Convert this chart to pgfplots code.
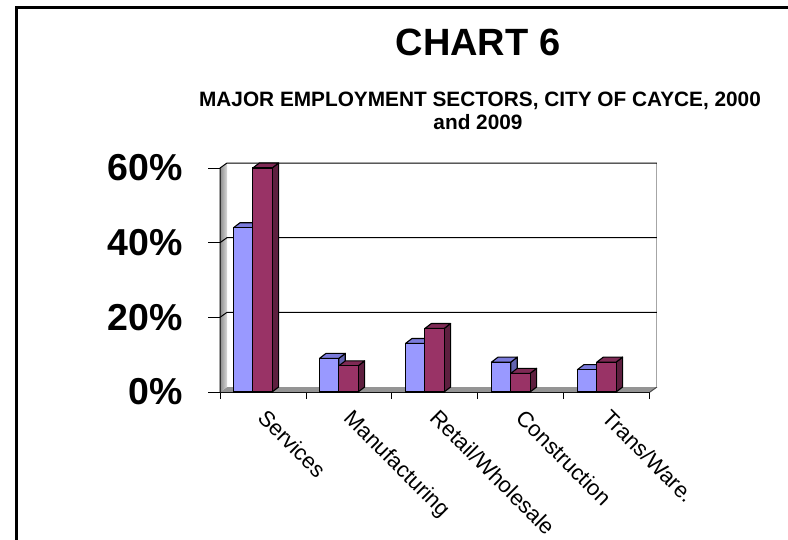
\documentclass[border=0pt]{standalone}
\usepackage{pgfplots}
\pgfplotsset{compat=1.18}
\usepackage{pgfplotstable}
\usepackage{fontspec}
\setmainfont{Liberation Sans}

\definecolor{blueF}{HTML}{9999FF}
\definecolor{blueT}{HTML}{7B7BDB}
\definecolor{blueS}{HTML}{6262B0}
\definecolor{marF}{HTML}{993366}
\definecolor{marT}{HTML}{7F2A55}
\definecolor{marS}{HTML}{5E1F3F}

% share of employment, 2000 (a) and 2009 (b)
\pgfplotstableread{
x a  b
0 44 60
1 9  7
2 13 17
3 8  5
4 6  8
}\sectors

\pgfdeclareplotmark{nothing}{}

% one 3D bar drawn at the marker origin (top of the bar, category centre)
% #1 meta mapped to 0..1000 (= 0..60%), #2 left edge offset in pt, #3 front, #4 top, #5 side colour
\newcommand\drawbar[5]{%
  \pgfmathsetmacro\hh{#1*0.224}%
  \draw[black, line width=1.1pt, line join=round, fill=#5]
    (#2pt+19.3pt,0pt) -- ++(6.5pt,5pt) -- ++(0pt,-\hh pt) -- ++(-6.5pt,-5pt) -- cycle;
  \draw[black, line width=1.1pt, line join=round, fill=#4]
    (#2pt,0pt) -- ++(6.5pt,5pt) -- ++(19.3pt,0pt) -- ++(-6.5pt,-5pt) -- cycle;
  \draw[black, line width=1.1pt, fill=#3]
    (#2pt,-\hh pt) rectangle (#2pt+19.3pt,0pt);
}

\begin{document}
\begin{tikzpicture}
\useasboundingbox (0,0) rectangle (788pt,539pt);
\draw[line width=3pt] (16.5pt,-5pt) -- (16.5pt,531.5pt) -- (800pt,531.5pt);

\node[font=\bfseries\fontsize{38}{40}\selectfont, anchor=base] at (478pt,483.5pt) {CHART 6};
\node[font=\bfseries\fontsize{20.8}{23}\selectfont, anchor=base] at (480pt,432pt) {MAJOR EMPLOYMENT SECTORS, CITY OF CAYCE, 2000};
\node[font=\bfseries\fontsize{20.8}{23}\selectfont, anchor=base] at (478pt,409pt) {and 2009};

\begin{axis}[
    at={(220pt,147pt)}, anchor=south west,
    scale only axis,
    width=430pt, height=224pt,
    xmin=-0.5, xmax=4.5, ymin=0, ymax=60,
    axis x line*=bottom, axis y line*=left,
    axis line style={black, line width=1pt},
    tick align=outside,
    tick style={black, line width=1pt},
    xtick={0,...,4},
    xticklabels={Services, Manufacturing, Retail/Wholesale, Construction, Trans/Ware.},
    major x tick style={draw=none},
    minor xtick={-0.5,0.5,...,4.5},
    minor tick length=7pt,
    major tick length=12pt,
    ytick={0,20,40,60},
    yticklabels={0\%,20\%,40\%,60\%},
    /pgf/number format/assume math mode=true,
    yticklabel style={font=\bfseries\fontsize{37.5}{40}\selectfont, anchor=east, inner sep=0pt, xshift=-25pt},
    xticklabel style={font=\fontsize{22}{26}\selectfont, xshift=5pt, yshift=-4pt, rotate=-45, anchor=north west, inner sep=0pt},
    point meta min=0, point meta max=60,
    clip=false,
]
% walls and floor
\fill[black!42] (axis cs:-0.5,0) -- (axis cs:4.5,0) -- ([shift={(7pt,5pt)}]axis cs:4.5,0) -- ([shift={(7pt,5pt)}]axis cs:-0.5,0) -- cycle;
\draw[black!70, line width=1pt] ([shift={(7pt,5pt)}]axis cs:4.5,0) -- (axis cs:4.5,0);
\shade[left color=black!45, right color=black!15] (axis cs:-0.5,0) -- (axis cs:-0.5,60) -- ([shift={(7pt,5pt)}]axis cs:-0.5,60) -- ([shift={(7pt,5pt)}]axis cs:-0.5,0) -- cycle;
\draw[black!35, line width=1pt] ([shift={(7pt,5pt)}]axis cs:4.5,0) -- ([shift={(7pt,5pt)}]axis cs:4.5,60);
\draw[black, line width=1pt] (axis cs:-0.5,0) -- (axis cs:-0.5,60) -- ([shift={(7pt,5pt)}]axis cs:-0.5,60) -- ([shift={(7pt,5pt)}]axis cs:4.5,60);
\draw[black, line width=1pt] (axis cs:-0.5,20) -- ([shift={(7pt,5pt)}]axis cs:-0.5,20) -- ([shift={(7pt,5pt)}]axis cs:4.5,20);
\draw[black, line width=1pt] (axis cs:-0.5,40) -- ([shift={(7pt,5pt)}]axis cs:-0.5,40) -- ([shift={(7pt,5pt)}]axis cs:4.5,40);

\addplot[scatter, only marks, mark=nothing, point meta=y,
    scatter/@pre marker code/.code={\drawbar{\pgfplotspointmetatransformed}{-29.5}{blueF}{blueT}{blueS}},
    scatter/@post marker code/.code={}]
    table[x=x, y=a] {\sectors};
\addplot[scatter, only marks, mark=nothing, point meta=y,
    scatter/@pre marker code/.code={\drawbar{\pgfplotspointmetatransformed}{-10.2}{marF}{marT}{marS}},
    scatter/@post marker code/.code={}]
    table[x=x, y=b] {\sectors};
\end{axis}
\end{tikzpicture}
\end{document}
